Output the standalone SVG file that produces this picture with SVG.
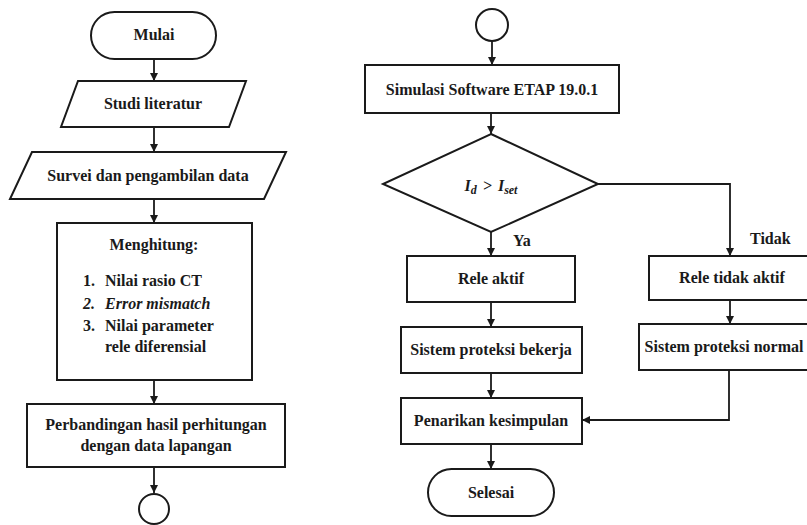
<svg xmlns="http://www.w3.org/2000/svg" width="807" height="525" viewBox="0 0 807 525">
<style>
.s{fill:#fff;stroke:#1a1a1a;stroke-width:2}
.t{font-family:"Liberation Serif","Times New Roman",serif;font-weight:bold;font-size:16px;fill:#1a1a1a}
.m{text-anchor:middle}
.c{fill:none;stroke:#1a1a1a;stroke-width:1.8}
</style>
<defs>
<marker id="a" markerUnits="userSpaceOnUse" markerWidth="9" markerHeight="9" refX="8" refY="4.5" orient="auto">
<path d="M0,0.5 L8,4.5 L0,8.5 z" fill="#1a1a1a"/>
</marker>
</defs>
<rect width="807" height="525" fill="#fff"/>

<g id="connectors">
<line class="c" x1="154" y1="59" x2="154" y2="81" marker-end="url(#a)"/>
<line class="c" x1="154" y1="127" x2="154" y2="152" marker-end="url(#a)"/>
<line class="c" x1="154" y1="199" x2="154" y2="223" marker-end="url(#a)"/>
<line class="c" x1="154" y1="380" x2="154" y2="404" marker-end="url(#a)"/>
<line class="c" x1="154" y1="467" x2="154" y2="493" marker-end="url(#a)"/>
<line class="c" x1="492" y1="41" x2="492" y2="65" marker-end="url(#a)"/>
<line class="c" x1="491" y1="113" x2="491" y2="134" marker-end="url(#a)"/>
<line class="c" x1="491" y1="232" x2="491" y2="256" marker-end="url(#a)"/>
<polyline class="c" points="598,184 730,184 730,256" marker-end="url(#a)"/>
<line class="c" x1="491" y1="302" x2="491" y2="327" marker-end="url(#a)"/>
<line class="c" x1="491" y1="373" x2="491" y2="398" marker-end="url(#a)"/>
<line class="c" x1="491" y1="444" x2="491" y2="469" marker-end="url(#a)"/>
<line class="c" x1="730" y1="300" x2="730" y2="324" marker-end="url(#a)"/>
<polyline class="c" points="729,370 729,420 582,420" marker-end="url(#a)"/>
<text class="t" x="513" y="246">Ya</text>
<text class="t" x="750" y="244">Tidak</text>
</g>

<g id="mulai">
<rect class="s" x="91" y="12" width="125" height="47" rx="23.5"/>
<text class="t m" x="154" y="40">Mulai</text>
</g>
<g id="studi">
<polygon class="s" points="78,81 246,81 229,127 61,127"/>
<text class="t m" x="153" y="109">Studi literatur</text>
</g>
<g id="survei">
<polygon class="s" points="32,152 286,152 264,199 10,199"/>
<text class="t m" x="148" y="181">Survei dan pengambilan data</text>
</g>
<g id="menghitung">
<rect class="s" x="57" y="223" width="195" height="157"/>
<text class="t m" x="154" y="250">Menghitung:</text>
<text class="t" x="83" y="286">1.</text><text class="t" x="105" y="286">Nilai rasio CT</text>
<text class="t" x="83" y="309" font-style="italic">2.</text><text class="t" x="105" y="309" font-style="italic">Error mismatch</text>
<text class="t" x="83" y="331">3.</text><text class="t" x="105" y="331">Nilai parameter</text>
<text class="t" x="105" y="352">rele diferensial</text>
</g>
<g id="perbandingan">
<rect class="s" x="27" y="404" width="258" height="63"/>
<text class="t m" x="156" y="430">Perbandingan hasil perhitungan</text>
<text class="t m" x="156" y="451">dengan data lapangan</text>
</g>
<g id="konektor-a">
<circle class="s" cx="154" cy="509" r="15"/>
</g>

<g id="konektor-b">
<circle class="s" cx="492" cy="25" r="16"/>
</g>
<g id="simulasi">
<rect class="s" x="365" y="65" width="254" height="48"/>
<text class="t m" x="492" y="95">Simulasi Software ETAP 19.0.1</text>
</g>
<g id="keputusan">
<polygon class="s" points="491,134 598,184 491,232 383,184"/>
<text class="t m" x="491" y="191" font-style="italic">I<tspan font-size="12" dy="3">d</tspan><tspan dx="6" dy="-3">&gt;</tspan><tspan dx="6">I</tspan><tspan font-size="12" dy="3">set</tspan></text>
</g>
<g id="rele-aktif">
<rect class="s" x="407" y="256" width="168" height="46"/>
<text class="t m" x="491" y="284">Rele aktif</text>
</g>
<g id="sistem-bekerja">
<rect class="s" x="401" y="327" width="181" height="46"/>
<text class="t m" x="491" y="355">Sistem proteksi bekerja</text>
</g>
<g id="penarikan">
<rect class="s" x="401" y="398" width="181" height="46"/>
<text class="t m" x="491" y="426">Penarikan kesimpulan</text>
</g>
<g id="selesai">
<rect class="s" x="428" y="469" width="126" height="47" rx="23.5"/>
<text class="t m" x="491" y="498">Selesai</text>
</g>
<g id="rele-tidak-aktif">
<rect class="s" x="649" y="256" width="162" height="44"/>
<text class="t m" x="732" y="283">Rele tidak aktif</text>
</g>
<g id="sistem-normal">
<rect class="s" x="639" y="324" width="182" height="46"/>
<text class="t m" x="724" y="352">Sistem proteksi normal</text>
</g>
</svg>
